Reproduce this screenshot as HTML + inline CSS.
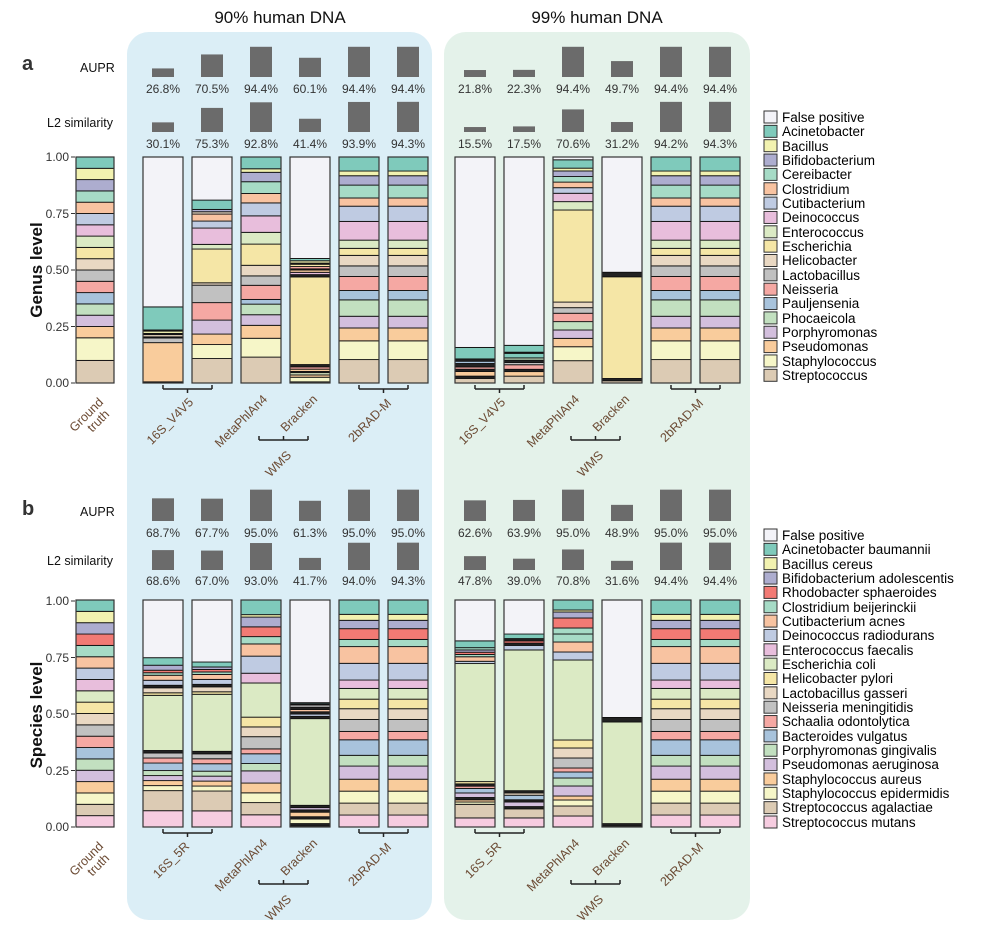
<!DOCTYPE html>
<html><head><meta charset="utf-8">
<style>
html,body{margin:0;padding:0;background:#fff;}
svg text{font-family:"Liberation Sans",Arial,sans-serif;}
</style></head>
<body>
<svg id="s" width="998" height="930" viewBox="0 0 998 930" xmlns="http://www.w3.org/2000/svg">
<rect x="127" y="32" width="305" height="888" rx="22" fill="#dbeef6"/>
<rect x="444" y="32" width="306" height="888" rx="22" fill="#e4f2ea"/>
<text x="280" y="23" font-size="17" text-anchor="middle" fill="#111">90% human DNA</text>
<text x="597" y="23" font-size="17" text-anchor="middle" fill="#111">99% human DNA</text>
<text x="22" y="70" font-size="20" font-weight="bold" fill="#333">a</text>
<text x="22" y="515" font-size="20" font-weight="bold" fill="#333">b</text>
<text x="80" y="72" font-size="12.5" fill="#111">AUPR</text>
<text x="47" y="127" font-size="12.5" fill="#111">L2 similarity</text>
<text x="80" y="516" font-size="12.5" fill="#111">AUPR</text>
<text x="47" y="565" font-size="12.5" fill="#111">L2 similarity</text>
<text transform="translate(42,270) rotate(-90)" font-size="17" font-weight="bold" text-anchor="middle" fill="#111">Genus level</text>
<text transform="translate(42,715) rotate(-90)" font-size="17" font-weight="bold" text-anchor="middle" fill="#111">Species level</text>
<g font-size="12" fill="#333" text-anchor="end">
<text x="69" y="161">1.00</text><text x="69" y="218">0.75</text><text x="69" y="274">0.50</text><text x="69" y="331">0.25</text><text x="69" y="387">0.00</text>
<text x="69" y="605">1.00</text><text x="69" y="662">0.75</text><text x="69" y="718">0.50</text><text x="69" y="775">0.25</text><text x="69" y="831">0.00</text>
</g>
<g font-size="12" fill="#333" text-anchor="middle">
<text x="163" y="93">26.8%</text><text x="212" y="93">70.5%</text><text x="261" y="93">94.4%</text><text x="310" y="93">60.1%</text><text x="359" y="93">94.4%</text><text x="408" y="93">94.4%</text>
<text x="475" y="93">21.8%</text><text x="524" y="93">22.3%</text><text x="573" y="93">94.4%</text><text x="622" y="93">49.7%</text><text x="671" y="93">94.4%</text><text x="720" y="93">94.4%</text>
<text x="163" y="148">30.1%</text><text x="212" y="148">75.3%</text><text x="261" y="148">92.8%</text><text x="310" y="148">41.4%</text><text x="359" y="148">93.9%</text><text x="408" y="148">94.3%</text>
<text x="475" y="148">15.5%</text><text x="524" y="148">17.5%</text><text x="573" y="148">70.6%</text><text x="622" y="148">31.2%</text><text x="671" y="148">94.2%</text><text x="720" y="148">94.3%</text>
<text x="163" y="537">68.7%</text><text x="212" y="537">67.7%</text><text x="261" y="537">95.0%</text><text x="310" y="537">61.3%</text><text x="359" y="537">95.0%</text><text x="408" y="537">95.0%</text>
<text x="475" y="537">62.6%</text><text x="524" y="537">63.9%</text><text x="573" y="537">95.0%</text><text x="622" y="537">48.9%</text><text x="671" y="537">95.0%</text><text x="720" y="537">95.0%</text>
<text x="163" y="585">68.6%</text><text x="212" y="585">67.0%</text><text x="261" y="585">93.0%</text><text x="310" y="585">41.7%</text><text x="359" y="585">94.0%</text><text x="408" y="585">94.3%</text>
<text x="475" y="585">47.8%</text><text x="524" y="585">39.0%</text><text x="573" y="585">70.8%</text><text x="622" y="585">31.6%</text><text x="671" y="585">94.4%</text><text x="720" y="585">94.4%</text>
</g>
<g font-size="12.5" fill="#6b4a33" text-anchor="end">
<text transform="translate(104,403) rotate(-45)">Ground</text>
<text transform="translate(110,415) rotate(-45)">truth</text>
<text transform="translate(194,403) rotate(-45)">16S_V4V5</text>
<text transform="translate(268,400) rotate(-45)">MetaPhlAn4</text>
<text transform="translate(318,400) rotate(-45)">Bracken</text>
<text transform="translate(392,404) rotate(-45)">2bRAD-M</text>
<text transform="translate(292,456) rotate(-45)">WMS</text>
<text transform="translate(506,403) rotate(-45)">16S_V4V5</text>
<text transform="translate(580,400) rotate(-45)">MetaPhlAn4</text>
<text transform="translate(630,400) rotate(-45)">Bracken</text>
<text transform="translate(704,404) rotate(-45)">2bRAD-M</text>
<text transform="translate(604,456) rotate(-45)">WMS</text>
<text transform="translate(104,847) rotate(-45)">Ground</text>
<text transform="translate(110,859) rotate(-45)">truth</text>
<text transform="translate(190,847) rotate(-45)">16S_5R</text>
<text transform="translate(268,844) rotate(-45)">MetaPhlAn4</text>
<text transform="translate(318,844) rotate(-45)">Bracken</text>
<text transform="translate(392,848) rotate(-45)">2bRAD-M</text>
<text transform="translate(292,900) rotate(-45)">WMS</text>
<text transform="translate(502,847) rotate(-45)">16S_5R</text>
<text transform="translate(580,844) rotate(-45)">MetaPhlAn4</text>
<text transform="translate(630,844) rotate(-45)">Bracken</text>
<text transform="translate(704,848) rotate(-45)">2bRAD-M</text>
<text transform="translate(604,900) rotate(-45)">WMS</text>
</g>
<g font-size="13.5" fill="#000">
<text x="782" y="122">False positive</text><text x="782" y="136">Acinetobacter</text><text x="782" y="151">Bacillus</text><text x="782" y="165">Bifidobacterium</text><text x="782" y="179">Cereibacter</text><text x="782" y="194">Clostridium</text><text x="782" y="208">Cutibacterium</text><text x="782" y="222">Deinococcus</text><text x="782" y="237">Enterococcus</text><text x="782" y="251">Escherichia</text><text x="782" y="265">Helicobacter</text><text x="782" y="280">Lactobacillus</text><text x="782" y="294">Neisseria</text><text x="782" y="308">Pauljensenia</text><text x="782" y="323">Phocaeicola</text><text x="782" y="337">Porphyromonas</text><text x="782" y="351">Pseudomonas</text><text x="782" y="366">Staphylococcus</text><text x="782" y="380">Streptococcus</text>
<text x="782" y="540">False positive</text><text x="782" y="554">Acinetobacter baumannii</text><text x="782" y="569">Bacillus cereus</text><text x="782" y="583">Bifidobacterium adolescentis</text><text x="782" y="597">Rhodobacter sphaeroides</text><text x="782" y="612">Clostridium beijerinckii</text><text x="782" y="626">Cutibacterium acnes</text><text x="782" y="640">Deinococcus radiodurans</text><text x="782" y="655">Enterococcus faecalis</text><text x="782" y="669">Escherichia coli</text><text x="782" y="683">Helicobacter pylori</text><text x="782" y="698">Lactobacillus gasseri</text><text x="782" y="712">Neisseria meningitidis</text><text x="782" y="726">Schaalia odontolytica</text><text x="782" y="741">Bacteroides vulgatus</text><text x="782" y="755">Porphyromonas gingivalis</text><text x="782" y="769">Pseudomonas aeruginosa</text><text x="782" y="784">Staphylococcus aureus</text><text x="782" y="798">Staphylococcus epidermidis</text><text x="782" y="812">Streptococcus agalactiae</text><text x="782" y="827">Streptococcus mutans</text>
</g>
<g id="dyn"></g>
</svg>
<script>
var NS="http://www.w3.org/2000/svg",g=document.getElementById("dyn");
function R(x,y,w,h,f,s,sw){var r=document.createElementNS(NS,"rect");r.setAttribute("x",x);r.setAttribute("y",y);r.setAttribute("width",w);r.setAttribute("height",h);r.setAttribute("fill",f);if(s){r.setAttribute("stroke",s);r.setAttribute("stroke-width",sw||1);}g.appendChild(r);}
function L(x1,y1,x2,y2,c,w){var l=document.createElementNS(NS,"line");l.setAttribute("x1",x1);l.setAttribute("y1",y1);l.setAttribute("x2",x2);l.setAttribute("y2",y2);l.setAttribute("stroke",c||"#222");l.setAttribute("stroke-width",w||1.5);g.appendChild(l);}
var G={fp:"#f3f3f8",ac:"#7fcabb",ba:"#f2f2b0",bi:"#adadcf",ce:"#a6dbc6",cl:"#f8c3a1",cu:"#bfcbe2",de:"#e8bedc",en:"#dbeac4",es:"#f5e6a6",he:"#e9d8c3",la:"#c1c1c1",ne:"#f5a8a3",pa:"#a8c3dc",ph:"#c2e0c0",po:"#d3bfdd",ps:"#f9cc9c",st:"#f6f6c8",sr:"#dccbb4",k:"#222",rh:"#f27a74",mu:"#f6cce0"};
var gorder=["fp","ac","ba","bi","ce","cl","cu","de","en","es","he","la","ne","pa","ph","po","ps","st","sr"];
var sorder=["fp","ac","ba","bi","rh","ce","cl","cu","de","en","es","he","la","ne","pa","ph","po","ps","st","sr","mu"];
// species color mapping: reuse names
var S={fp:G.fp,ac:G.ac,ba:G.ba,bi:G.bi,rh:G.rh,ce:G.ce,cl:G.cl,cu:G.cu,de:G.de,en:G.en,es:G.es,he:G.he,la:G.la,ne:G.ne,pa:G.pa,ph:G.ph,po:G.po,ps:G.ps,st:G.st,sr:G.sr,mu:G.mu};
// species legend colors (in order)
var slc=[G.fp,G.ac,G.ba,G.bi,G.rh,G.ce,G.cl,G.cu,G.de,G.en,G.es,G.he,G.la,G.ne,G.pa,G.ph,G.po,G.ps,G.st,G.sr,G.mu];
// legend boxes
gorder.forEach(function(k,i){R(764,111+i*14.35,13,12,G[k],"#333",1);});
// species legend: FP, Acin, Bacillus, Bifido, Rhodobacter(red), Clostridium(mint), Cuti(peach), Deino(blue), Entero(pink), Ecoli(green), Helico(yellow), Lacto(beige), Neisseria(gray), Schaalia(salmon), Bacteroides(blue), Porph(green), Pseudo(purple), Staph aureus(orange), Staph epi(lightyellow), Strep agal(tan), Strep mut(pink)
var sl=[G.fp,G.ac,G.ba,G.bi,G.rh,G.ce,G.cl,G.cu,G.de,G.en,G.es,G.he,G.la,G.ne,G.pa,G.ph,G.po,G.ps,G.st,G.sr,G.mu];
// reorder to match visuals
sl=[G.fp,G.ac,G.ba,G.bi,G.rh,G.ce,G.cl,G.cu,G.de,G.en,G.es,G.he,G.la,G.ne,G.pa,G.ph,G.po,G.ps,G.st,G.sr,G.mu];
var specCols=[G.fp,G.ac,G.ba,G.bi,G.rh,G.ce,G.cl,G.cu,G.de,G.en,G.es,G.he,G.la,G.ne,G.pa,G.ph,G.po,G.ps,G.st,G.sr,G.mu];
// actual species colors by legend position
var SC=[G.fp,G.ac,G.ba,G.bi,"#f27a74",G.ce,"#f8c3a1",G.cu,G.de,G.en,G.es,G.he,G.la,G.ne,G.pa,G.ph,G.po,G.ps,G.st,G.sr,G.mu];
SC=[G.fp,"#7fcabb","#f2f2b0","#adadcf","#f27a74","#a6dbc6","#f8c3a1","#bfcbe2","#e8bedc","#dbeac4","#f5e6a6","#e9d8c3","#c1c1c1","#f5a8a3","#a8c3dc","#c2e0c0","#d3bfdd","#f9cc9c","#f6f6c8","#dccbb4","#f6cce0"];
SC.forEach(function(c,i){R(764,529+i*14.35,13,12,c,"#333",1);});
// species keys
var s={fp:SC[0],ac:SC[1],bc:SC[2],bi:SC[3],rh:SC[4],cl:SC[5],cu:SC[6],de:SC[7],en:SC[8],ec:SC[9],he:SC[10],la:SC[11],ne:SC[12],sc:SC[13],bv:SC[14],po:SC[15],ps:SC[16],sa:SC[17],se:SC[18],sg:SC[19],mu:SC[20],k:"#222"};
function bar(x,y0,h,segs,C,w){w=w||40;var tot=0;segs.forEach(function(a){tot+=a[0];});var y=y0;
 segs.forEach(function(a){var hh=a[0]/tot*h;R(x,y-hh,w,hh,C[a[1]],"#111",0.9);y-=hh;});
 R(x,y0-h,w,h,"none","#333",1.2);}
function P(str){return str.split(" ").map(function(t){var p=t.split(":");return [parseFloat(p[1]),p[0]];});}
var bxA=[143,192,241,290,339,388],bxB=[455,504,553,602,651,700];
// genus bars
var gt=P("sr:0.1 st:0.1 ps:0.05 po:0.05 ph:0.05 pa:0.05 ne:0.05 la:0.05 he:0.05 es:0.05 en:0.05 de:0.05 cu:0.05 cl:0.05 ce:0.05 bi:0.05 ba:0.05 ac:0.05");
bar(76,383,226,gt,G,38);
var rad=P("sr:0.1 st:0.08 ps:0.055 po:0.05 ph:0.07 pa:0.04 ne:0.06 la:0.045 he:0.045 es:0.03 en:0.035 de:0.08 cu:0.065 cl:0.035 ce:0.055 bi:0.04 ba:0.02 ac:0.06");
var A1=[P("k:0.005 ps:0.17 la:0.02 k:0.005 sr:0.01 k:0.005 ba:0.01 k:0.005 ac:0.1 fp:0.65"),
 P("sr:0.105 st:0.06 ps:0.045 po:0.06 ne:0.075 la:0.075 he:0.01 es:0.145 en:0.02 de:0.07 cu:0.03 cl:0.03 he:0.01 bi:0.01 ac:0.04 fp:0.185"),
 P("sr:0.11 st:0.08 ps:0.055 po:0.045 ph:0.045 pa:0.02 ne:0.06 la:0.04 he:0.045 es:0.09 en:0.05 de:0.07 cu:0.055 cl:0.04 ce:0.05 bi:0.04 ba:0.015 ac:0.05"),
 P("sr:0.005 st:0.02 ps:0.01 en:0.01 k:0.005 ps:0.01 ne:0.01 k:0.01 es:0.38 k:0.01 de:0.01 ps:0.01 k:0.005 ne:0.01 es:0.01 k:0.005 ba:0.01 ac:0.01 fp:0.44"),rad,rad];
var B1=[P("sr:0.02 k:0.01 ps:0.02 k:0.01 ne:0.01 k:0.015 pa:0.01 k:0.01 ac:0.05 fp:0.83"),
 P("sr:0.03 ps:0.02 k:0.01 ne:0.02 la:0.01 k:0.01 ph:0.01 ac:0.02 k:0.005 ac:0.03 fp:0.825"),
 P("sr:0.08 st:0.05 ps:0.03 po:0.03 ph:0.03 ne:0.03 la:0.02 he:0.02 es:0.33 en:0.03 de:0.03 cu:0.02 cl:0.02 ce:0.02 bi:0.02 ba:0.01 ac:0.03 fp:0.01"),
 P("sr:0.01 k:0.01 es:0.45 k:0.02 fp:0.51"),rad,rad];
for(var i=0;i<6;i++){bar(bxA[i],383,226,A1[i],G);bar(bxB[i],383,226,B1[i],G);}
// species
var sgt=[];["mu","sg","se","sa","ps","po","bv","sc","ne","la","he","ec","en","de","cu","cl","rh","bi","bc","ac"].forEach(function(k){sgt.push([1,k]);});
bar(76,827,227,sgt,s,38);
var srad=P("mu:0.05 sg:0.05 se:0.05 sa:0.05 ps:0.055 po:0.045 bv:0.065 sc:0.035 ne:0.05 la:0.045 he:0.04 ec:0.045 en:0.035 de:0.07 cu:0.07 cl:0.03 rh:0.045 bi:0.035 bc:0.025 ac:0.06");
var A2=[P("mu:0.065 sg:0.08 se:0.02 sa:0.02 ps:0.02 po:0.02 bv:0.03 sc:0.02 ne:0.02 k:0.01 ec:0.22 he:0.01 la:0.02 k:0.01 de:0.02 cu:0.02 cl:0.01 rh:0.01 bi:0.02 ac:0.03 fp:0.23"),
 P("mu:0.065 sg:0.08 se:0.02 sa:0.02 ps:0.02 po:0.02 bv:0.03 sc:0.02 ne:0.02 k:0.01 ec:0.23 he:0.01 la:0.02 k:0.01 de:0.02 cu:0.02 cl:0.01 rh:0.01 bi:0.01 ac:0.02 fp:0.25"),
 P("mu:0.05 sg:0.05 se:0.04 sa:0.04 ps:0.05 po:0.03 bv:0.04 sc:0.02 ne:0.05 la:0.04 he:0.04 ec:0.14 en:0.04 de:0.07 cu:0.05 cl:0.03 rh:0.04 bi:0.04 bc:0.01 ac:0.06"),
 P("sg:0.005 k:0.01 se:0.02 k:0.01 sa:0.02 k:0.01 ps:0.01 k:0.01 ec:0.38 k:0.01 de:0.01 k:0.01 cu:0.01 k:0.01 ne:0.01 k:0.005 ac:0.005 fp:0.45"),srad,srad];
var B2=[P("mu:0.04 sg:0.06 se:0.01 sa:0.01 k:0.01 ps:0.02 bv:0.02 sc:0.01 k:0.01 he:0.01 ec:0.52 de:0.01 cu:0.02 cl:0.01 rh:0.01 bi:0.01 cl:0.01 ac:0.03 fp:0.18"),
 P("mu:0.04 sg:0.04 k:0.01 ps:0.02 k:0.01 bv:0.02 la:0.01 k:0.01 ec:0.62 de:0.02 k:0.01 rh:0.01 k:0.01 ac:0.02 fp:0.15"),
 P("mu:0.055 sg:0.05 se:0.03 sa:0.02 ps:0.05 po:0.04 bv:0.03 sc:0.02 ne:0.05 la:0.05 he:0.04 ec:0.4 de:0.04 cu:0.05 cl:0.04 cl:0.03 rh:0.05 bi:0.03 bc:0.01 ac:0.05"),
 P("sg:0.005 k:0.01 ec:0.45 k:0.02 fp:0.52"),srad,srad];
for(var i=0;i<6;i++){bar(bxA[i],827,227,A2[i],s);bar(bxB[i],827,227,B2[i],s);}
// metric bars
var mA1=[26.8,70.5,94.4,60.1,94.4,94.4],mB1=[21.8,22.3,94.4,49.7,94.4,94.4],lA1=[30.1,75.3,92.8,41.4,93.9,94.3],lB1=[15.5,17.5,70.6,31.2,94.2,94.3];
var mA2=[68.7,67.7,95,61.3,95,95],mB2=[62.6,63.9,95,48.9,95,95],lA2=[68.6,67,93,41.7,94,94.3],lB2=[47.8,39,70.8,31.6,94.4,94.4];
function met(xs,vals,base,sc){for(var i=0;i<6;i++){var h=vals[i]*sc;R(xs[i]+9,base-h,22,h,"#6b6b6b");}}
met(bxA,mA1,77,0.32);met(bxB,mB1,77,0.32);met(bxA,lA1,132,0.32);met(bxB,lB1,132,0.32);
met(bxA,mA2,521,0.33);met(bxB,mB2,521,0.33);met(bxA,lA2,570,0.29);met(bxB,lB2,570,0.29);
// axis ticks
[0,444].forEach(function(dy){for(var j=0;j<5;j++){var y=383+dy-j*56.5;L(71,y,75,y,"#333",1);}
 [0,312].forEach(function(dx){
  L(163+dx,389+dy,212+dx,389+dy);L(163+dx,385+dy,163+dx,389+dy);L(212+dx,385+dy,212+dx,389+dy);L(187.5+dx,389+dy,187.5+dx,393+dy);
  L(359+dx,389+dy,408+dx,389+dy);L(359+dx,385+dy,359+dx,389+dy);L(408+dx,385+dy,408+dx,389+dy);L(383.5+dx,389+dy,383.5+dx,393+dy);
  L(259+dx,440+dy,308+dx,440+dy);L(259+dx,436+dy,259+dx,440+dy);L(308+dx,436+dy,308+dx,440+dy);L(283.5+dx,436+dy,283.5+dx,440+dy);
 });});
</script>
</body></html>
